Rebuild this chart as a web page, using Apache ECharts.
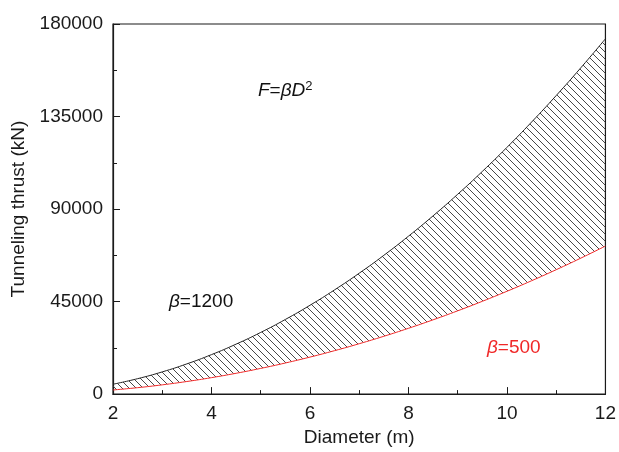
<!DOCTYPE html>
<html>
<head>
<meta charset="utf-8">
<script src="https://cdn.jsdelivr.net/npm/echarts@6/dist/echarts.min.js"></script>
<style>html,body{margin:0;padding:0;background:#fff}#c{width:619px;height:452px}</style>
</head>
<body>
<div id="c"></div>
<script>
var diameters = [2, 2.5, 3, 3.5, 4, 4.5, 5, 5.5, 6, 6.5, 7, 7.5, 8, 8.5, 9, 9.5, 10, 10.5, 11, 11.5, 12];
var thrustBeta1200 = [4800, 7500, 10800, 14700, 19200, 24300, 30000, 36300, 43200, 50700, 58800, 67500, 76800, 86700, 97200, 108300, 120000, 132300, 145200, 158700, 172800];
var thrustBeta500 = [2000, 3125, 4500, 6125, 8000, 10125, 12500, 15125, 18000, 21125, 24500, 28125, 32000, 36125, 40500, 45125, 50000, 55125, 60500, 66125, 72000];
var yTicks = [0, 45000, 90000, 135000, 180000];
var xTicks = [2, 4, 6, 8, 10, 12];

var P = 7;
var pc = document.createElement('canvas');
pc.width = P; pc.height = P;
var g = pc.getContext('2d');
g.strokeStyle = '#333';
g.lineWidth = 0.9;
g.beginPath();
g.moveTo(-1, -1); g.lineTo(P + 1, P + 1);
g.moveTo(P - 1, -1); g.lineTo(P + 1, 1);
g.moveTo(-1, P - 1); g.lineTo(1, P + 1);
g.stroke();

// value first, diameter second so that stacking happens on the thrust dimension
var lowerData = diameters.map(function (d, i) { return [thrustBeta500[i], d]; });
var bandData = diameters.map(function (d, i) { return [thrustBeta1200[i] - thrustBeta500[i], d]; });

var chart = echarts.init(document.getElementById('c'));
var font = 'Liberation Sans, Arial, sans-serif';
var tc = '#1a1a1a';
chart.setOption({
  animation: false,
  grid: { left: 113, right: 11, top: 24, bottom: 54, show: true, borderColor: tc, borderWidth: 1.2 },
  xAxis: {
    type: 'value', min: xTicks[0], max: xTicks[xTicks.length - 1], interval: 2,
    name: 'Diameter (m)', nameLocation: 'middle', nameGap: 33,
    nameTextStyle: { fontSize: 19, color: tc, fontFamily: font },
    axisLine: { show: true, lineStyle: { color: tc, width: 1.2 } },
    axisTick: { inside: true, length: 7, lineStyle: { color: tc } },
    minorTick: { show: true, splitNumber: 2, length: 4, lineStyle: { color: tc } },
    axisLabel: { fontSize: 19, color: tc, fontFamily: font, margin: 10 },
    splitLine: { show: false }
  },
  yAxis: {
    type: 'value', min: yTicks[0], max: yTicks[yTicks.length - 1], interval: 45000,
    name: 'Tunneling thrust (kN)', nameLocation: 'middle', nameGap: 84, nameRotate: 90,
    nameTextStyle: { fontSize: 19, color: tc, fontFamily: font },
    axisLine: { show: true, lineStyle: { color: tc, width: 1.2 } },
    axisTick: { inside: true, length: 7, lineStyle: { color: tc } },
    minorTick: { show: true, splitNumber: 2, length: 4, lineStyle: { color: tc } },
    axisLabel: { fontSize: 19, color: tc, fontFamily: font, margin: 10, formatter: function (v) { return String(v); } },
    splitLine: { show: false }
  },
  series: [
    {
      type: 'line', stack: 'band', data: lowerData, encode: { x: 1, y: 0 }, smooth: true, showSymbol: false,
      lineStyle: { color: '#f02828', width: 1 }, z: 3
    },
    {
      type: 'line', stack: 'band', data: bandData, encode: { x: 1, y: 0 }, smooth: true, showSymbol: false,
      lineStyle: { color: '#222', width: 1 },
      areaStyle: { color: { image: pc, repeat: 'repeat' }, opacity: 1 }, z: 2
    }
  ],
  graphic: [
    { type: 'text', left: 258, top: 80, style: {
      text: '{i|F}{n|=}{i|βD}{s|2}',
      rich: {
        i: { fontSize: 19, fontStyle: 'italic', fontFamily: font, fill: '#111' },
        n: { fontSize: 19, fontFamily: font, fill: '#111' },
        s: { fontSize: 13, fontFamily: font, fill: '#111', verticalAlign: 'top', padding: [0, 0, 8, 0] }
      } } },
    { type: 'text', left: 169, top: 292, style: {
      text: '{i|β}{n|=1200}',
      rich: {
        i: { fontSize: 19, fontStyle: 'italic', fontFamily: font, fill: '#111' },
        n: { fontSize: 19, fontFamily: font, fill: '#111' }
      } } },
    { type: 'text', left: 487, top: 338, style: {
      text: '{i|β}{n|=500}',
      rich: {
        i: { fontSize: 19, fontStyle: 'italic', fontFamily: font, fill: '#f02828' },
        n: { fontSize: 19, fontFamily: font, fill: '#f02828' }
      } } }
  ]
});
</script>
</body>
</html>
